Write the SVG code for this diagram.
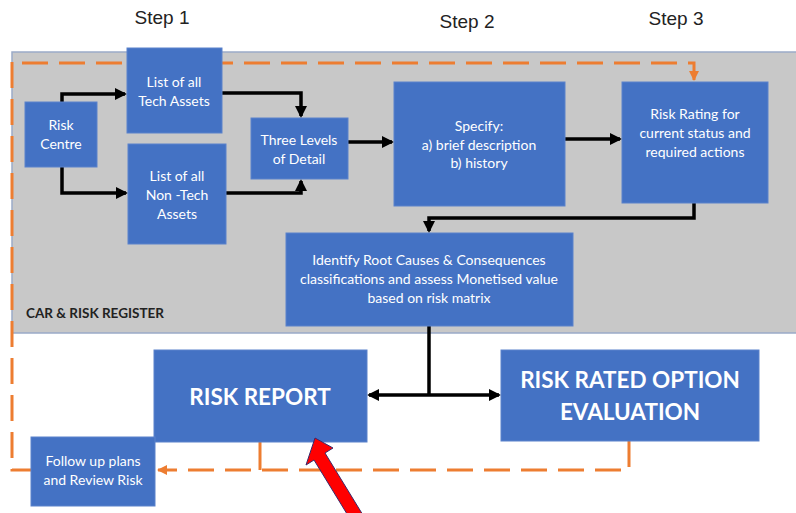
<svg xmlns="http://www.w3.org/2000/svg" width="796" height="513" viewBox="0 0 796 513">
<defs>
<marker id="ah" viewBox="0 0 12 12" markerWidth="12" markerHeight="12" refX="10" refY="6" orient="auto" markerUnits="userSpaceOnUse">
<path d="M0,0 L12,6 L0,12 z" fill="#000"/>
</marker>
<marker id="oh" viewBox="0 0 10 10" markerWidth="10" markerHeight="10" refX="9" refY="5" orient="auto" markerUnits="userSpaceOnUse">
<path d="M0,0 L10,5 L0,10 z" fill="#ED7D31"/>
</marker>
</defs>
<style>
.box{fill:#4472C4;stroke:#5B82CB;stroke-width:1}
.t{font-family:Lato,"Liberation Sans",sans-serif;font-size:14px;fill:#fff;text-anchor:middle}
.big{font-family:Lato,"Liberation Sans",sans-serif;font-size:22.5px;font-weight:bold;fill:#fff;text-anchor:middle}
.step{font-family:"Liberation Sans",Arial,sans-serif;font-size:19px;fill:#222;text-anchor:middle}
.c{fill:none;stroke:#000;stroke-width:3.5}
.o{fill:none;stroke:#ED7D31;stroke-width:3;stroke-dasharray:26 11}
.os{fill:none;stroke:#ED7D31;stroke-width:3}
</style>
<rect width="796" height="513" fill="#fff"/>
<g id="register">
<rect x="12" y="52" width="790" height="281" fill="#C8C8C8" stroke="#9AAAC8" stroke-width="1.5"/>
<text x="26" y="318" style="font-family:Lato,'Liberation Sans',sans-serif;font-size:13.5px;font-weight:bold;fill:#222">CAR &amp; RISK REGISTER</text>
</g>
<text class="step" x="162" y="24">Step 1</text>
<text class="step" x="467" y="28">Step 2</text>
<text class="step" x="676" y="25">Step 3</text>
<g id="connectors">
<path class="o" d="M22,63 L694,63 L694,80" marker-end="url(#oh)"/>
<path class="o" d="M12,62 L12,470 L31,470"/>
<path class="o" d="M629,441 L629,470 L158,470" marker-end="url(#oh)"/>
<path class="os" d="M260,442 L260,470"/>
<path class="c" d="M62,102 L62,94 L125,94" marker-end="url(#ah)"/>
<path class="c" d="M62,167 L62,193 L126,193" marker-end="url(#ah)"/>
<path class="c" d="M222,93 L301,93 L301,116" marker-end="url(#ah)"/>
<path class="c" d="M226,193 L301,193 L301,181" marker-end="url(#ah)"/>
<path class="c" d="M348,142 L392,142" marker-end="url(#ah)"/>
<path class="c" d="M565,139 L620,139" marker-end="url(#ah)"/>
<path class="c" d="M694,203 L694,218 L429,218 L429,231" marker-end="url(#ah)"/>
<path class="c" d="M429,326 L429,395"/>
<path class="c" d="M429,395 L369,395" marker-end="url(#ah)"/>
<path class="c" d="M429,395 L499,395" marker-end="url(#ah)"/>
</g>
<g id="risk-centre"><rect class="box" x="25" y="102" width="72" height="65"/>
<text class="t" x="61" y="130">Risk</text><text class="t" x="61" y="149">Centre</text></g>
<g id="tech-assets"><rect class="box" x="127" y="48" width="95" height="85"/>
<text class="t" x="174" y="87">List of all</text><text class="t" x="174" y="106">Tech Assets</text></g>
<g id="non-tech-assets"><rect class="box" x="128" y="144" width="98" height="100"/>
<text class="t" x="177" y="181">List of all</text><text class="t" x="177" y="200">Non -Tech</text><text class="t" x="177" y="219">Assets</text></g>
<g id="three-levels"><rect class="box" x="251" y="118" width="97" height="61"/>
<text class="t" x="299" y="145">Three Levels</text><text class="t" x="299" y="164">of Detail</text></g>
<g id="specify"><rect class="box" x="394" y="82" width="171" height="124"/>
<text class="t" x="479" y="131">Specify:</text><text class="t" x="479" y="150">a) brief description</text><text class="t" x="479" y="168">b) history</text></g>
<g id="risk-rating"><rect class="box" x="622" y="82" width="146" height="121"/>
<text class="t" x="695" y="119">Risk Rating for</text><text class="t" x="695" y="138">current status and</text><text class="t" x="695" y="157">required actions</text></g>
<g id="identify"><rect class="box" x="286" y="233" width="287" height="93"/>
<text class="t" x="429" y="265">Identify Root Causes &amp; Consequences</text><text class="t" x="429" y="284">classifications and assess Monetised value</text><text class="t" x="429" y="303">based on risk matrix</text></g>
<g id="risk-report"><rect class="box" x="154" y="350" width="213" height="92"/>
<text class="big" x="260" y="405">RISK REPORT</text></g>
<g id="option-evaluation"><rect class="box" x="501" y="350" width="258" height="91"/>
<text class="big" x="630" y="388">RISK RATED OPTION</text><text class="big" x="630" y="420">EVALUATION</text></g>
<g id="follow-up"><rect class="box" x="31" y="437" width="124" height="69"/>
<text class="t" x="93" y="466">Follow up plans</text><text class="t" x="93" y="485">and Review Risk</text></g>
<g id="red-arrow">
<path d="M315,438 L333,448 L325,453 L366,520 L355,527 L314,460 L306,465 Z" fill="#FF0000" stroke="#3A2A6A" stroke-width="1"/>
</g>
</svg>
